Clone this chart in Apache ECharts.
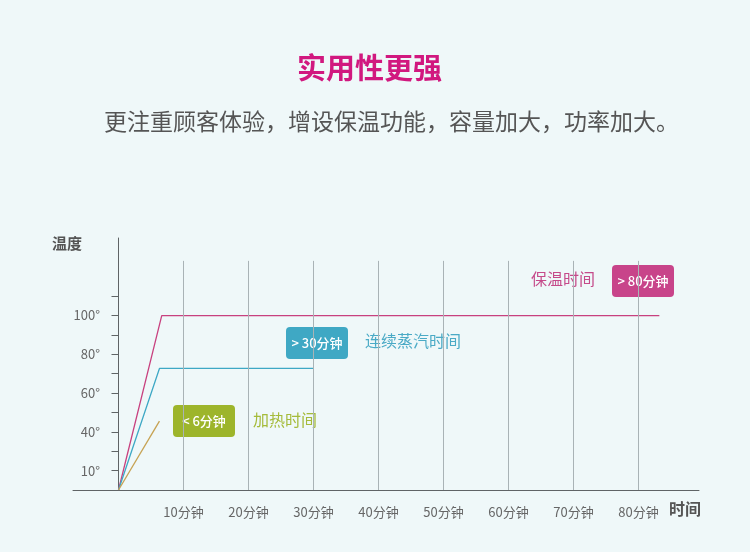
<!DOCTYPE html>
<html>
<head>
<meta charset="utf-8">
<script src="https://cdn.jsdelivr.net/npm/echarts@6/dist/echarts.min.js"></script>
<style>
	html, body {margin:0; padding:0; background:#eff8f9;}
	#chart {width:750px; height:552px;}
</style>
</head>
<body>
<div id="chart"></div>
<script>
	// 时间(分钟) / 温度
	var xTicks = [10, 20, 30, 40, 50, 60, 70, 80];
	var xTickLabels = ['10分钟', '20分钟', '30分钟', '40分钟', '50分钟', '60分钟', '70分钟', '80分钟'];
	var yTicks = [20, 30, 40, 50, 60, 70, 80, 90, 100, 110];
	var yLabelVals = [20, 40, 60, 80, 100];
	var yTickLabels = ['10°', '40°', '60°', '80°', '100°'];

	var baowen = [[0, 10], [6.65, 100], [83.2, 100]];   // 保温时间
	var zhengqi = [[0, 10], [6.3, 72.7], [30, 72.7]];   // 连续蒸汽时间
	var jiare = [[0, 10], [6.3, 45.5]];                 // 加热时间

	var font = '"Noto Sans CJK SC", "Noto Sans", sans-serif';

	var gridLines = xTicks.map(function(v){
		return [{coord:[v, 10]}, {coord:[v, 128.2]}];
	});

	function badge(x, y, txt, color){
		return {
			type:'group', left:x, top:y,
			children:[
				{type:'rect', shape:{x:0, y:0, width:62, height:32, r:4}, style:{fill:color}},
				{type:'text', x:31, y:16, style:{text:txt, fill:'#fff', font:'500 13px ' + font, align:'center', verticalAlign:'middle'}}
			]
		};
	}
	function label(x, y, txt, color){
		return {type:'text', left:x, top:y, style:{text:txt, fill:color, font:'16px ' + font}};
	}

	var myChart = echarts.init(document.getElementById('chart'));
	var option = {
		backgroundColor:'#eff8f9',
		animation:false,
		grid:{left:73, right:51, top:238, bottom:62},
		xAxis:{
			type:'value', min:-7, max:89.3,
			axisLine:{lineStyle:{color:'#5f6466', width:1}},
			axisTick:{show:false},
			splitLine:{show:false},
			axisLabel:{
				customValues:xTicks, margin:16, color:'#666', fontSize:13, fontFamily:font,
				formatter:function(v){ return xTickLabels[xTicks.indexOf(v)]; }
			}
		},
		yAxis:{
			type:'value', min:10, max:140,
			axisLine:{onZero:true, lineStyle:{color:'#5f6466', width:1}},
			axisTick:{show:true, customValues:yTicks, length:7, lineStyle:{color:'#5f6466'}},
			splitLine:{show:false},
			axisLabel:{
				customValues:yLabelVals, margin:-27, color:'#666', fontSize:13, fontFamily:font,
				formatter:function(v){ return yTickLabels[yLabelVals.indexOf(v)]; }
			}
		},
		series:[
			{
				type:'line', data:[], silent:true,
				markLine:{
					silent:true, symbol:'none', label:{show:false},
					lineStyle:{color:'#a9b3b6', width:1, type:'solid'},
					data:gridLines
				}
			},
			{name:'保温时间', type:'line', data:baowen, symbol:'none', lineStyle:{color:'#c8417f', width:1.3}},
			{name:'连续蒸汽时间', type:'line', data:zhengqi, symbol:'none', lineStyle:{color:'#3ea8c5', width:1.3}},
			{name:'加热时间', type:'line', data:jiare, symbol:'none', lineStyle:{color:'#c6a252', width:1.3}}
		],
		graphic:[
			{type:'text', left:297, top:53, style:{text:'实用性更强', fill:'#d1187f', font:'bold 29px ' + font}},
			{type:'text', left:104, top:110, style:{text:'更注重顾客体验，增设保温功能，容量加大，功率加大。', fill:'#555', font:'23px ' + font}},
			{type:'text', left:52, top:236, style:{text:'温度', fill:'#555', font:'bold 15px ' + font}},
			{type:'text', left:669, top:501, style:{text:'时间', fill:'#555', font:'bold 16px ' + font}},
			label(531, 271, '保温时间', '#c54a8a'),
			badge(612, 265, '> 80分钟', '#c8448a'),
			badge(286, 327, '> 30分钟', '#3fa8c4'),
			label(365, 333, '连续蒸汽时间', '#4aaac6'),
			badge(173, 405, '< 6分钟', '#9db52b'),
			label(253, 412, '加热时间', '#a5bb3a')
		]
	};
	myChart.setOption(option, true);
</script>
</body>
</html>
